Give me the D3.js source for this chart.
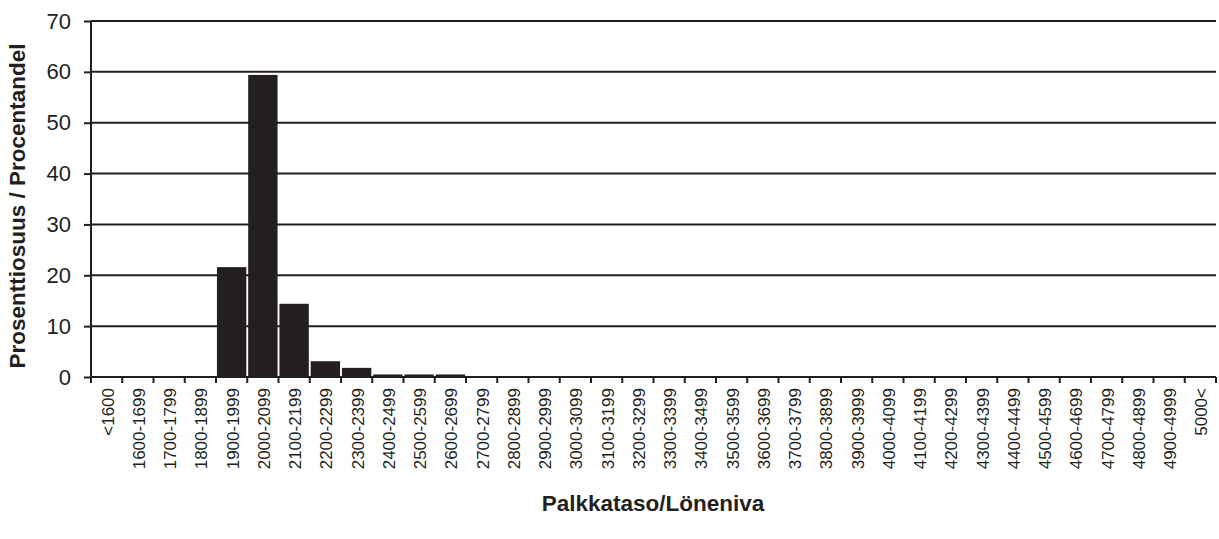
<!DOCTYPE html>
<html><head><meta charset="utf-8">
<script src="https://cdn.jsdelivr.net/npm/d3@7"></script>
<style>
html,body{margin:0;padding:0;background:#fff;}
text{font-family:"Liberation Sans",Arial,Helvetica,sans-serif;fill:#231f20;}
</style></head>
<body>
<svg id="c" width="1219" height="539"></svg>
<script>
const categories = ["<1600","1600-1699","1700-1799","1800-1899","1900-1999","2000-2099","2100-2199","2200-2299","2300-2399","2400-2499","2500-2599","2600-2699","2700-2799","2800-2899","2900-2999","3000-3099","3100-3199","3200-3299","3300-3399","3400-3499","3500-3599","3600-3699","3700-3799","3800-3899","3900-3999","4000-4099","4100-4199","4200-4299","4300-4399","4400-4499","4500-4599","4600-4699","4700-4799","4800-4899","4900-4999","5000<"];
const values = [0,0,0,0,21.6,59.4,14.4,3.1,1.8,0.5,0.5,0.5,0.15,0,0,0,0,0,0,0,0,0,0,0,0,0,0,0,0,0,0,0,0,0,0,0];
const yTicks = [0,10,20,30,40,50,60,70];
const yTitle = "Prosenttiosuus / Procentandel";
const xTitle = "Palkkataso/Löneniva";

const svg = d3.select("#c");
const L = 91, R = 1216, T = 21, B = 377;
const ink = "#231f20";
const x = d3.scaleBand().domain(categories).range([L, R]).paddingInner(0.06).paddingOuter(0.03);
const y = d3.scaleLinear().domain([0, 70]).range([B, T]);

// gridlines
svg.append("g").selectAll("line").data(yTicks.filter(d => d > 0)).join("line")
  .attr("x1", L).attr("x2", R).attr("y1", d => y(d)).attr("y2", d => y(d))
  .attr("stroke", ink).attr("stroke-width", 2);

// bars
svg.append("g").selectAll("rect").data(categories).join("rect")
  .attr("x", d => x(d)).attr("width", x.bandwidth())
  .attr("y", (d, i) => y(values[i])).attr("height", (d, i) => B - y(values[i]))
  .attr("fill", ink);

// y axis
const ya = svg.append("g").attr("transform", `translate(${L},0)`)
  .call(d3.axisLeft(y).tickValues(yTicks).tickSize(7).tickPadding(13).tickFormat(d3.format("d")));
ya.select(".domain").attr("stroke", ink).attr("stroke-width", 2).attr("d", `M0,${T}V${B}`);
ya.selectAll(".tick line").attr("stroke", ink).attr("stroke-width", 2);
ya.selectAll(".tick text").attr("font-size", 22).attr("fill", ink).attr("font-family", "Liberation Sans, Arial, sans-serif");

// x axis with ticks at band boundaries
const xa = svg.append("g").attr("transform", `translate(0,${B})`);
xa.append("line").attr("x1", L).attr("x2", R).attr("y1", 0).attr("y2", 0).attr("stroke", ink).attr("stroke-width", 2);
const step = (R - L) / categories.length;
const bounds = d3.range(categories.length + 1).map(i => L + i * step);
xa.selectAll("line.tk").data(bounds).join("line").attr("class", "tk")
  .attr("x1", d => d).attr("x2", d => d).attr("y1", 0).attr("y2", 6)
  .attr("stroke", ink).attr("stroke-width", 2);
xa.selectAll("text").data(categories).join("text")
  .attr("transform", d => `translate(${x(d) + x.bandwidth() / 2 + 1},11) rotate(-90)`)
  .attr("text-anchor", "end").attr("dy", "0.35em")
  .attr("font-size", 17).text(d => d);

// titles
svg.append("text").attr("transform", `translate(25,206) rotate(-90)`)
  .attr("text-anchor", "middle").attr("font-size", 22.5).attr("font-weight", "bold").text(yTitle);
svg.append("text").attr("x", 653).attr("y", 511)
  .attr("text-anchor", "middle").attr("font-size", 22.5).attr("font-weight", "bold").text(xTitle);
</script>
</body></html>
